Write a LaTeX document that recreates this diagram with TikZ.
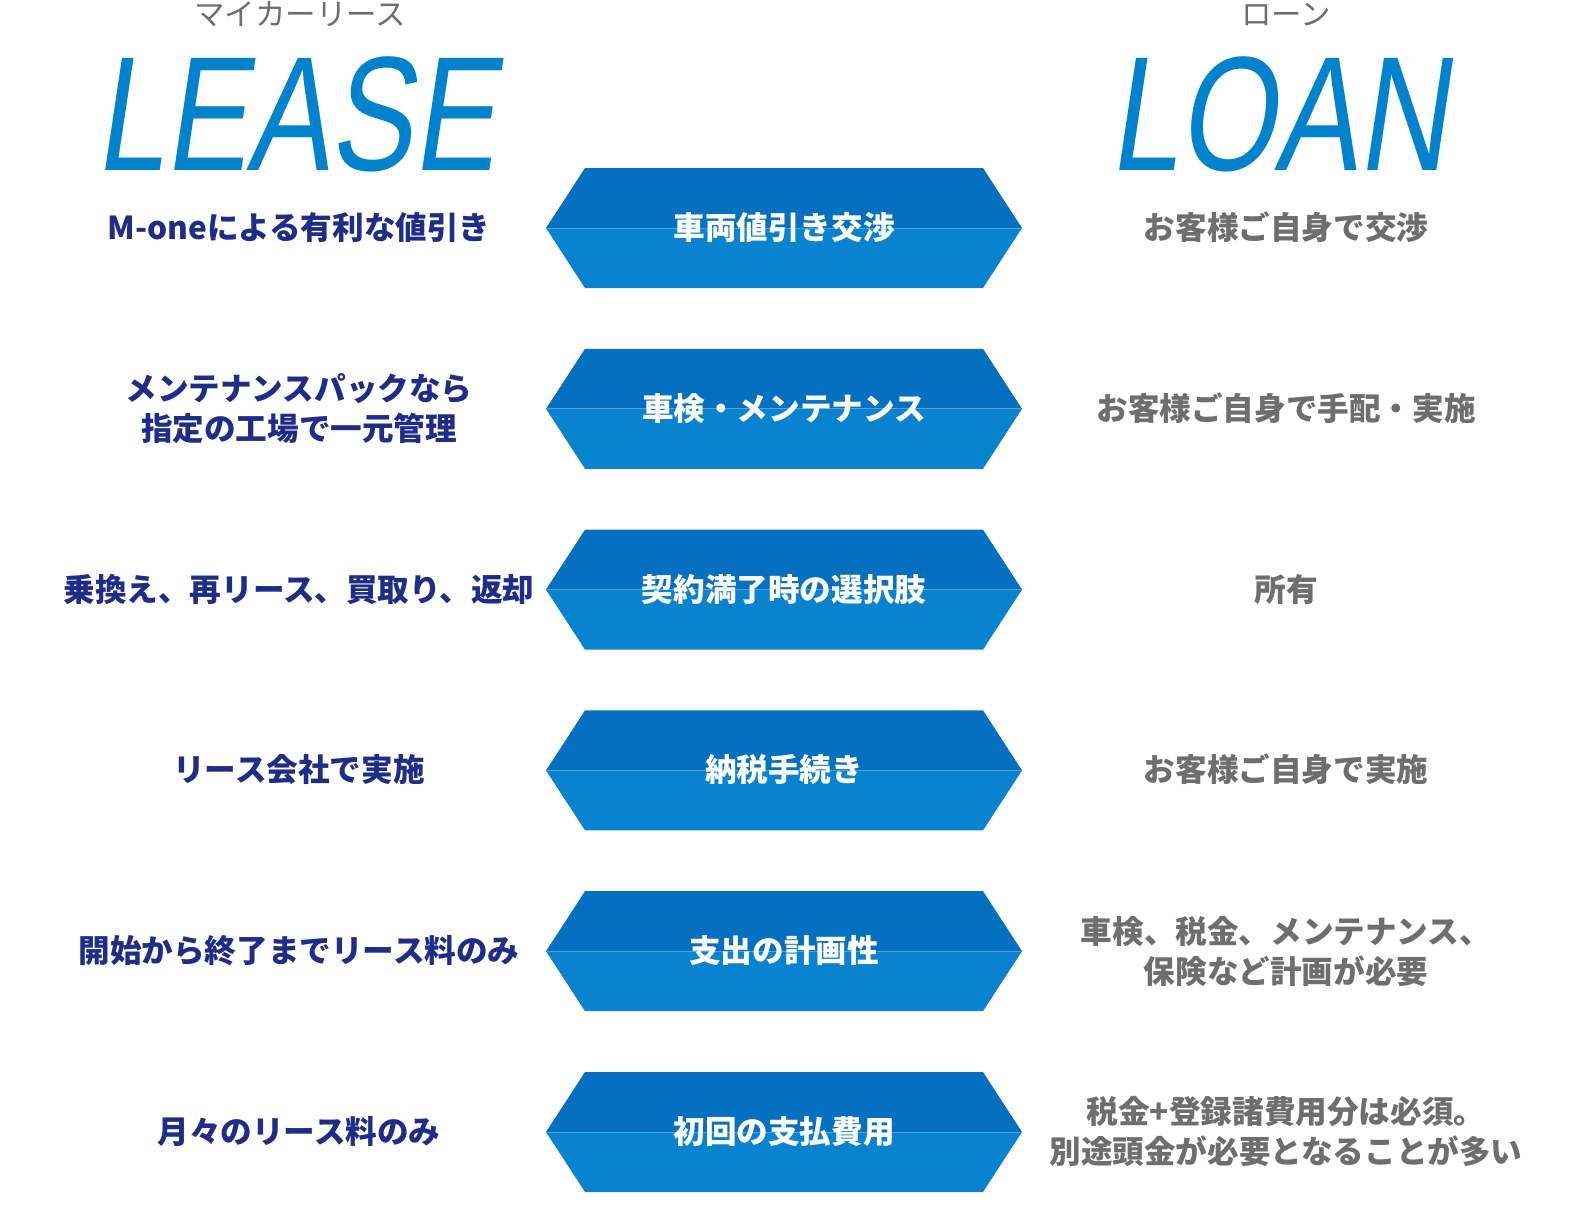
\documentclass[tikz,border=0pt]{standalone}
\usepackage{fontspec}
\newfontfamily\jp{Noto Sans CJK JP}
\newfontfamily\bigfont[FakeSlant=0.15,FakeStretch=0.76]{Liberation Sans}
\definecolor{hexup}{HTML}{0570BF}
\definecolor{hexdown}{HTML}{0A83CE}
\definecolor{hexline}{HTML}{4FA3DC}
\definecolor{bigblue}{HTML}{0082CC}
\definecolor{navy}{HTML}{1F2D88}
\definecolor{txtgray}{HTML}{6E6E6E}
\tikzset{
  headtxt/.style={anchor=base, inner sep=0pt, text=txtgray, font=\jp\fontsize{30.5}{36}\selectfont},
  bigtxt/.style={anchor=base, inner sep=0pt, text=bigblue, font=\bigfont\fontsize{163}{170}\selectfont},
  lefttxt/.style={anchor=base, inner sep=0pt, text=navy, font=\jp\bfseries\fontsize{31.6}{40}\selectfont},
  righttxt/.style={anchor=base, inner sep=0pt, text=txtgray, font=\jp\bfseries\fontsize{31.6}{40}\selectfont},
  midtxt/.style={anchor=base, inner sep=0pt, text=white, font=\jp\bfseries\fontsize{31.6}{40}\selectfont},
}
\begin{document}
\begin{tikzpicture}[x=1pt,y=-1pt]
\useasboundingbox (0,0) rectangle (1586,1213);
% hexagons
\foreach \cy in {228,408.8,589.6,770.4,951.2,1132}{
  \fill[hexup] (546,\cy) -- (585,\cy-60) -- (983,\cy-60) -- (1022,\cy) -- cycle;
  \fill[hexdown] (546,\cy) -- (585,\cy+60) -- (983,\cy+60) -- (1022,\cy) -- cycle;
  \draw[hexline, line width=1pt] (547,\cy) -- (1021,\cy);
}
% headers
\node[headtxt] (hl) at (300,25.5) {マイカーリース};
\node[headtxt] (hr) at (1286,25.5) {ローン};
\node[bigtxt] (lease) at (295,170) {LEASE};
\node[bigtxt] (loan) at (1278,170) {LOAN};
% row 1
\node[lefttxt] (l1) at (299,239.5) {M-oneによる有利な値引き};
\node[midtxt] (m1) at (784,239.5) {車両値引き交渉};
\node[righttxt] (r1) at (1286,239.5) {お客様ご自身で交渉};
% row 2
\node[lefttxt] (l2a) at (299,400) {メンテナンスパックなら};
\node[lefttxt] (l2b) at (299,440.5) {指定の工場で一元管理};
\node[midtxt] (m2) at (784,420.3) {車検・メンテナンス};
\node[righttxt] (r2) at (1286,420.3) {お客様ご自身で手配・実施};
% row 3
\node[lefttxt] (l3) at (299,601.1) {乗換え、再リース、買取り、返却};
\node[midtxt] (m3) at (784,601.1) {契約満了時の選択肢};
\node[righttxt] (r3) at (1286,601.1) {所有};
% row 4
\node[lefttxt] (l4) at (299,781.9) {リース会社で実施};
\node[midtxt] (m4) at (784,781.9) {納税手続き};
\node[righttxt] (r4) at (1286,781.9) {お客様ご自身で実施};
% row 5
\node[lefttxt] (l5) at (299,962.7) {開始から終了までリース料のみ};
\node[midtxt] (m5) at (784,962.7) {支出の計画性};
\node[righttxt] (r5a) at (1286,943.2) {車検、税金、メンテナンス、};
\node[righttxt] (r5b) at (1286,983.4) {保険など計画が必要};
% row 6
\node[lefttxt] (l6) at (299,1143.5) {月々のリース料のみ};
\node[midtxt] (m6) at (784,1143.5) {初回の支払費用};
\node[righttxt] (r6a) at (1286,1123.5) {税金+登録諸費用分は必須。};
\node[righttxt] (r6b) at (1286,1163.7) {別途頭金が必要となることが多い};
\end{tikzpicture}
\end{document}
